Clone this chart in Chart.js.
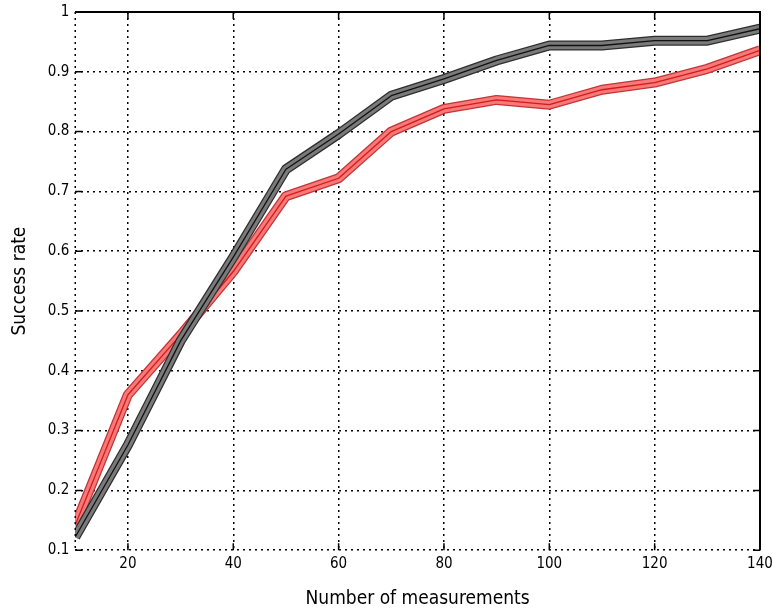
<!DOCTYPE html>
<html>
<head>
<meta charset="utf-8">
<script src="https://cdn.jsdelivr.net/npm/chart.js@4.4.1/dist/chart.umd.min.js"></script>
<style>
  html, body { margin: 0; padding: 0; background: #fff; }
  #wrap { width: 772px; height: 612px; position: relative; }
</style>
</head>
<body>
<div id="wrap"><canvas id="myChart"></canvas></div>
<script>
/* data */
const measurements = [10, 20, 30, 40, 50, 60, 70, 80, 90, 100, 110, 120, 130, 140];
const blackRate = [0.122, 0.276, 0.45, 0.59, 0.737, 0.796, 0.86, 0.888, 0.919, 0.944, 0.944, 0.952, 0.952, 0.972];
const redRate = [0.142, 0.36, 0.46, 0.566, 0.692, 0.722, 0.80, 0.838, 0.853, 0.845, 0.87, 0.882, 0.905, 0.936];
const xTicks = [20, 40, 60, 80, 100, 120, 140];
const yTicks = [0.1, 0.2, 0.3, 0.4, 0.5, 0.6, 0.7, 0.8, 0.9, 1];

const fontFamily = "'Liberation Sans Narrow', 'DejaVu Sans Condensed', sans-serif";
const tickFont = { family: fontFamily, size: 15 };

function points(values) {
  return measurements.map(function(x, i) { return { x: x, y: values[i] }; });
}

// band = dark edge, lighter inside, thin centre line
// (lower order is drawn on top)
function band(values, edge, fill, centre, base) {
  return [
    { data: points(values), borderColor: edge, borderWidth: 10, order: base + 3 },
    { data: points(values), borderColor: fill, borderWidth: 7.5, order: base + 2 },
    { data: points(values), borderColor: centre, borderWidth: 1.3, order: base + 1 }
  ];
}

const framePlugin = {
  id: 'frame',
  afterDraw: function(chart) {
    const ctx = chart.ctx;
    const a = chart.chartArea;
    const xs = chart.scales.x, ys = chart.scales.y;
    ctx.save();
    ctx.strokeStyle = '#000';
    ctx.lineWidth = 1.5;
    // left edge dotted
    ctx.setLineDash([2, 4]);
    ctx.beginPath();
    ctx.moveTo(a.left, a.top);
    ctx.lineTo(a.left, a.bottom);
    ctx.stroke();
    // top and right solid
    ctx.setLineDash([]);
    ctx.lineWidth = 2;
    ctx.beginPath();
    ctx.moveTo(a.left, a.top);
    ctx.lineTo(a.right, a.top);
    ctx.lineTo(a.right, a.bottom);
    ctx.stroke();
    // small inner ticks
    ctx.lineWidth = 1.5;
    xTicks.forEach(function(v) {
      const px = xs.getPixelForValue(v);
      ctx.beginPath();
      ctx.moveTo(px, a.bottom);
      ctx.lineTo(px, a.bottom - 7);
      ctx.moveTo(px, a.top);
      ctx.lineTo(px, a.top + 7);
      ctx.stroke();
    });
    yTicks.forEach(function(v) {
      const py = ys.getPixelForValue(v);
      ctx.beginPath();
      ctx.moveTo(a.left, py);
      ctx.lineTo(a.left + 7, py);
      ctx.moveTo(a.right, py);
      ctx.lineTo(a.right - 7, py);
      ctx.stroke();
    });
    ctx.restore();
  }
};

let ctx = document.getElementById('myChart').getContext('2d');
// eslint-disable-next-line
let chart = new Chart(ctx, {
  type: 'line',
  data: {
    datasets: band(blackRate, '#2e2e2e', '#7a7a7a', '#111', 0)
      .concat(band(redRate, '#c43434', '#f77a7a', '#d81818', 3))
  },
  options: {
    responsive: true,
    maintainAspectRatio: false,
    animation: false,
    elements: {
      point: { radius: 0 },
      line: { tension: 0, borderJoinStyle: 'round', borderCapStyle: 'butt' }
    },
    layout: {
      padding: { left: 9, right: 0, top: 0, bottom: 2 }
    },
    plugins: {
      legend: { display: false },
      tooltip: { enabled: false }
    },
    scales: {
      x: {
        type: 'linear',
        min: 10,
        max: 140,
        afterBuildTicks: function(axis) {
          axis.ticks = xTicks.map(function(v) { return { value: v }; });
        },
        afterFit: function(axis) {
          axis.paddingRight = 12;
        },
        ticks: { color: '#000', font: tickFont, padding: 5, maxRotation: 0 },
        grid: { color: '#000', lineWidth: 1.5, drawTicks: false },
        border: { display: false, dash: [2, 4] },
        title: {
          display: true,
          text: 'Number of measurements',
          color: '#000',
          font: { family: fontFamily, size: 19 },
          padding: { top: 9, bottom: 0 }
        }
      },
      y: {
        min: 0.1,
        max: 1,
        afterBuildTicks: function(axis) {
          axis.ticks = yTicks.map(function(v) { return { value: v }; });
        },
        afterFit: function(axis) {
          axis.paddingTop = 12;
        },
        ticks: {
          color: '#000',
          font: tickFont,
          padding: 6,
          callback: function(value) { return String(value); }
        },
        grid: { color: '#000', lineWidth: 1.5, drawTicks: false },
        border: { display: false, dash: [2, 4] },
        title: {
          display: true,
          text: 'Success rate',
          color: '#000',
          font: { family: fontFamily, size: 19 },
          padding: { top: 0, bottom: 10 }
        }
      }
    }
  },
  plugins: [framePlugin]
});
</script>
</body>
</html>
